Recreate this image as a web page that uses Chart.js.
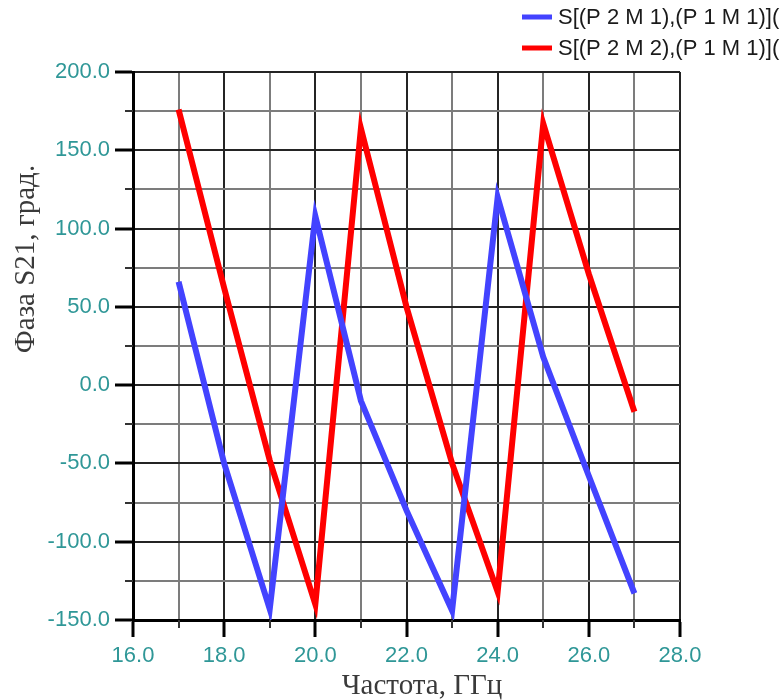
<!DOCTYPE html>
<html>
<head>
<meta charset="utf-8">
<script src="https://cdn.jsdelivr.net/npm/chart.js@4/dist/chart.umd.min.js"></script>
<style>
  html, body { margin: 0; padding: 0; background: #ffffff; }
  #wrap { width: 780px; height: 700px; overflow: hidden; }
</style>
</head>
<body>
<div id="wrap"><canvas id="c" width="780" height="700"></canvas></div>
<script>
// Frequency points, GHz
const freqGHz = [17, 18, 19, 20, 21, 22, 23, 24, 25, 26, 27];
// Phase of S21, degrees
const phaseM1 = [66, -50, -143, 108, -10, -80, -144, 120, 18, -58, -133];
const phaseM2 = [176, 62, -48, -140, 164, 50, -50, -132, 167, 71, -17];
const seriesNames = ['S[(P 2 M 1),(P 1 M 1)](', 'S[(P 2 M 2),(P 1 M 1)]('];

const xTitle = 'Частота, ГГц';
const yTitle = 'Фаза S21, град.';

const TEAL = '#2f9797';
const MAJOR_GRID = '#242424';
const MINOR_GRID = '#7c7c7c';
const TITLE_FONT = '29px "Liberation Serif", "Times New Roman", serif';

const toPoints = (xs, ys) => xs.map((x, i) => ({ x, y: ys[i] }));

// Short marks for the minor ticks, the axis titles and a legend in the top right corner
const axisDecor = {
  id: 'axisDecor',
  afterDraw(chart) {
    const { ctx } = chart;
    const xs = chart.scales.x, ys = chart.scales.y;
    ctx.save();
    ctx.strokeStyle = '#333';
    ctx.lineWidth = 2;
    ys.ticks.forEach(t => {
      if (t.value % 50 !== 0) {
        const py = Math.round(ys.getPixelForValue(t.value));
        ctx.beginPath();
        ctx.moveTo(xs.left - 8, py);
        ctx.lineTo(xs.left, py);
        ctx.stroke();
      }
    });
    xs.ticks.forEach(t => {
      if (t.value % 2 !== 0) {
        const px = Math.round(xs.getPixelForValue(t.value));
        ctx.beginPath();
        ctx.moveTo(px, ys.bottom);
        ctx.lineTo(px, ys.bottom + 8);
        ctx.stroke();
      }
    });

    // axis titles
    ctx.fillStyle = '#3a3a3a';
    ctx.font = TITLE_FONT;
    ctx.textAlign = 'center';
    ctx.textBaseline = 'alphabetic';
    ctx.fillText(xTitle, 422, 694);
    ctx.save();
    ctx.translate(34, 259);
    ctx.rotate(-Math.PI / 2);
    ctx.fillText(yTitle, 0, 0);
    ctx.restore();

    // legend
    ctx.font = '22px "Liberation Sans", Arial, sans-serif';
    ctx.textBaseline = 'middle';
    ctx.textAlign = 'left';
    chart.data.datasets.forEach((ds, i) => {
      const y = 17 + i * 31;
      ctx.strokeStyle = ds.borderColor;
      ctx.lineWidth = 5;
      ctx.beginPath();
      ctx.moveTo(522, y);
      ctx.lineTo(552, y);
      ctx.stroke();
      ctx.fillStyle = '#1a1a1a';
      ctx.fillText(ds.label, 558, y + 1);
    });
    ctx.restore();
  }
};

new Chart(document.getElementById('c'), {
  type: 'line',
  data: {
    datasets: [
      {
        label: seriesNames[0],
        data: toPoints(freqGHz, phaseM1),
        borderColor: '#4343ff',
        borderWidth: 6,
        borderJoinStyle: 'miter',
        pointRadius: 0,
        tension: 0,
        fill: false
      },
      {
        label: seriesNames[1],
        data: toPoints(freqGHz, phaseM2),
        borderColor: '#ff0000',
        borderWidth: 6,
        borderJoinStyle: 'miter',
        pointRadius: 0,
        tension: 0,
        fill: false
      }
    ]
  },
  options: {
    responsive: false,
    animation: false,
    devicePixelRatio: 1,
    layout: { padding: { top: 72, right: 100, left: 0, bottom: 0 } },
    plugins: {
      legend: { display: false },
      tooltip: { enabled: false }
    },
    scales: {
      x: {
        type: 'linear',
        min: 16,
        max: 28,
        afterFit(s) { s.height = 80; },
        border: { display: true, color: '#000', width: 3 },
        grid: {
          color: c => (c.tick.value % 2 === 0 ? MAJOR_GRID : MINOR_GRID),
          lineWidth: 2,
          tickLength: 17,
          tickWidth: 3,
          tickColor: c => (c.tick.value % 2 === 0 ? '#000' : 'rgba(0,0,0,0)')
        },
        ticks: {
          stepSize: 1,
          autoSkip: false,
          maxRotation: 0,
          padding: 6,
          color: TEAL,
          font: { family: '"Liberation Sans", Arial, sans-serif', size: 22 },
          callback: v => (v % 2 === 0 ? v.toFixed(1) : '')
        },
        title: { display: false }
      },
      y: {
        type: 'linear',
        min: -150,
        max: 200,
        afterFit(s) { s.width = 133; },
        border: { display: true, color: '#000', width: 3 },
        grid: {
          color: c => (c.tick.value % 50 === 0 ? MAJOR_GRID : MINOR_GRID),
          lineWidth: 2,
          tickLength: 18,
          tickWidth: 3,
          tickColor: c => (c.tick.value % 50 === 0 ? '#000' : 'rgba(0,0,0,0)')
        },
        ticks: {
          stepSize: 25,
          autoSkip: false,
          padding: 5,
          color: TEAL,
          font: { family: '"Liberation Sans", Arial, sans-serif', size: 22 },
          callback: v => (v % 50 === 0 ? v.toFixed(1) : '')
        },
        title: { display: false }
      }
    }
  },
  plugins: [axisDecor]
});
</script>
</body>
</html>
